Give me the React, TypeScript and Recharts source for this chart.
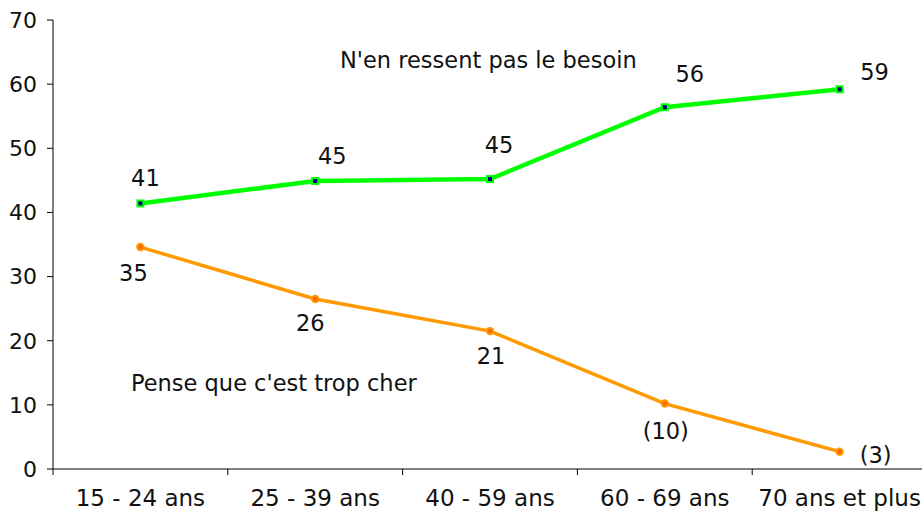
import React from "react";
import { LineChart, Line, XAxis, YAxis, LabelList } from "recharts";

const categories = ["15 - 24 ans", "25 - 39 ans", "40 - 59 ans", "60 - 69 ans", "70 ans et plus"];
const besoinValues = [41.4, 44.9, 45.2, 56.4, 59.2];
const besoinLabels = ["41", "45", "45", "56", "59"];
const cherValues = [34.6, 26.5, 21.5, 10.2, 2.7];
const cherLabels = ["35", "26", "21", "(10)", "(3)"];
const yTicks = [0, 10, 20, 30, 40, 50, 60, 70];

// label offsets (styling only), relative to each point
const besoinLabelOffsets = [[5, -25], [17, -25], [9, -34], [25, -33], [35, -17]];
const cherLabelOffsets = [[-7, 26], [-5, 24], [1, 25], [1, 27], [36, 3]];

const data = categories.map((cat, i) => ({
    cat,
    besoin: besoinValues[i],
    besoinLabel: besoinLabels[i],
    cher: cherValues[i],
    cherLabel: cherLabels[i],
}));

const FONT = "'DejaVu Sans', Verdana, sans-serif";
const CHART_W = 930;
const CHART_H = 518;
const MARGIN = { top: 20, right: 3, bottom: 0, left: 0 };
const Y_AXIS_W = 53;
const X_AXIS_H = 49;
const BAND = (CHART_W - MARGIN.left - MARGIN.right - Y_AXIS_W) / categories.length;

const XTick = (props: any) => {
    const { x, payload, index } = props;
    const axisY = CHART_H - MARGIN.bottom - X_AXIS_H;
    return (
        <g>
            <line x1={x - BAND / 2} x2={x - BAND / 2} y1={axisY} y2={axisY + 6} stroke="#000" />
            {index === categories.length - 1 && (
                <line x1={x + BAND / 2} x2={x + BAND / 2} y1={axisY} y2={axisY + 6} stroke="#000" />
            )}
            <text
                x={x}
                y={axisY + 29}
                textAnchor="middle"
                dominantBaseline="central"
                fontSize={23}
                fontFamily={FONT}
                fill="#111"
            >
                {payload.value}
            </text>
        </g>
    );
};

const GreenDot = (props: any) => {
    const { cx, cy } = props;
    if (cx == null || cy == null) return null;
    return (
        <g>
            <rect x={cx - 4} y={cy - 4} width={8} height={8} fill="#00ff00" />
            <rect x={cx - 2} y={cy - 2} width={4} height={4} fill="#000080" />
        </g>
    );
};

const OrangeDot = (props: any) => {
    const { cx, cy } = props;
    if (cx == null || cy == null) return null;
    return (
        <g>
            <circle cx={cx} cy={cy} r={4.2} fill="#ff9900" />
            <circle cx={cx} cy={cy} r={2.2} fill="#ff6600" />
        </g>
    );
};

const makeLabel = (offsets: number[][]) => (props: any) => {
    const { x, y, value, index } = props;
    const [dx, dy] = offsets[index] || [0, 0];
    return (
        <text
            x={x + dx}
            y={y + dy}
            textAnchor="middle"
            dominantBaseline="central"
            fontSize={22.5}
            fontFamily={FONT}
            fill="#111"
        >
            {value}
        </text>
    );
};

export default function App() {
    return (
        <div style={{ position: "absolute", left: 0, top: 0, width: 922, height: 518, overflow: "hidden", background: "#fff" }}>
            <LineChart width={CHART_W} height={CHART_H} data={data} margin={MARGIN}>
                <XAxis
                    dataKey="cat"
                    height={X_AXIS_H}
                    padding={{ left: BAND / 2, right: BAND / 2 }}
                    axisLine={{ stroke: "#555", strokeWidth: 1.5 }}
                    tickLine={false}
                    tick={<XTick />}
                    interval={0}
                />
                <YAxis
                    width={Y_AXIS_W}
                    domain={[0, 70]}
                    ticks={yTicks}
                    axisLine={{ stroke: "#000" }}
                    tickLine={{ stroke: "#000" }}
                    tickSize={6}
                    tickMargin={10}
                    tick={{ fontSize: 22, fontFamily: FONT, fill: "#111" }}
                />
                <text x={340} y={60} dominantBaseline="central" fontSize={22.5} fontFamily={FONT} fill="#111">
                    N'en ressent pas le besoin
                </text>
                <text x={131} y={383} dominantBaseline="central" fontSize={22.5} fontFamily={FONT} fill="#111">
                    Pense que c'est trop cher
                </text>
                <Line
                    dataKey="besoin"
                    stroke="#00ff00"
                    strokeWidth={4.5}
                    dot={<GreenDot />}
                    isAnimationActive={false}
                >
                    <LabelList dataKey="besoinLabel" content={makeLabel(besoinLabelOffsets)} />
                </Line>
                <Line
                    dataKey="cher"
                    stroke="#ff9900"
                    strokeWidth={3.5}
                    dot={<OrangeDot />}
                    isAnimationActive={false}
                >
                    <LabelList dataKey="cherLabel" content={makeLabel(cherLabelOffsets)} />
                </Line>
            </LineChart>
        </div>
    );
}
